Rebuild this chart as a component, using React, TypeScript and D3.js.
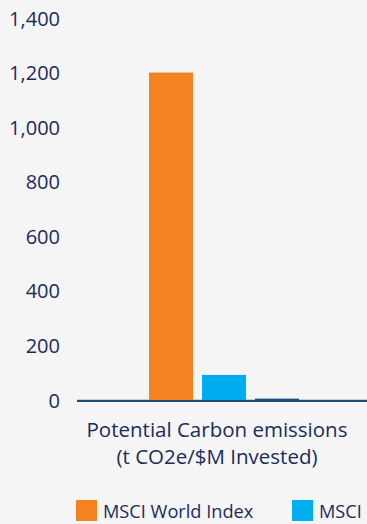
import React from "react";
import * as d3 from "d3";

// Chart data
const categories = ["Potential Carbon emissions|(t CO2e/$M Invested)"];
const seriesNames = ["MSCI World Index", "MSCI", "Fund"];
const seriesValues = [1200, 92, 5];
const seriesColors = ["#f58220", "#00aeef", "#1b4f82"];
const yTicks = [0, 200, 400, 600, 800, 1000, 1200, 1400];
const legendNames = ["MSCI World Index", "MSCI"];

const W = 367;
const H = 524;
const TEXT = "#1c2b5b";
const FONT = "'Open Sans', sans-serif";

export default function App() {
  const plotLeft = 77;
  const plotRight = 357;
  const y = d3.scaleLinear().domain([0, 1400]).range([400, 18]);

  const x0 = d3
    .scaleBand<string>()
    .domain(categories)
    .range([plotLeft, plotRight])
    .paddingInner(0)
    .paddingOuter(0.4333)
    .align(0.554);

  const x1 = d3
    .scaleBand<string>()
    .domain(seriesNames)
    .range([0, x0.bandwidth()])
    .paddingInner(0.17);

  const fmt = d3.format(",");
  const labelX = (plotLeft + plotRight) / 2;

  return (
    <svg
      width={W}
      height={H}
      style={{ position: "absolute", left: 0, top: 0, display: "block" }}
      fontFamily={FONT}
    >
      <rect x={0} y={0} width={W} height={H} fill="#f5f5f5" />

      {/* y-axis tick labels */}
      {yTicks.map((t) => (
        <text
          key={t}
          x={60}
          y={y(t)}
          textAnchor="end"
          dominantBaseline="central"
          fontSize={20}
          fill={TEXT}
        >
          {fmt(t)}
        </text>
      ))}

      {/* light baseline under the bars */}
      <line x1={plotLeft} x2={W} y1={399.5} y2={399.5} stroke="#c9ced4" strokeWidth={1} />

      {/* bars */}
      {categories.map((c) => (
        <g key={c} transform={`translate(${x0(c)},0)`}>
          {seriesNames.map((s, i) => (
            <rect
              key={s}
              x={x1(s)}
              y={y(seriesValues[i])}
              width={x1.bandwidth()}
              height={y(0) - y(seriesValues[i])}
              fill={seriesColors[i]}
            />
          ))}
        </g>
      ))}

      {/* axis line */}
      <line x1={plotLeft} x2={W} y1={401} y2={401} stroke="#1d4a72" strokeWidth={2} />

      {/* category label */}
      {categories.map((c) => {
        const lines = c.split("|");
        return (
          <text key={c} x={labelX} textAnchor="middle" fontSize={20.5} fill={TEXT}>
            {lines.map((l, i) => (
              <tspan key={i} x={labelX} y={437 + i * 27}>
                {l}
              </tspan>
            ))}
          </text>
        );
      })}

      {/* legend */}
      {legendNames.map((n, i) => (
        <g key={n} transform={`translate(${76 + i * 216},500)`}>
          <rect x={0} y={0} width={21} height={21} fill={seriesColors[i]} />
          <text x={27} y={11} dominantBaseline="central" fontSize={18.2} fill={TEXT}>
            {n}
          </text>
        </g>
      ))}
    </svg>
  );
}
